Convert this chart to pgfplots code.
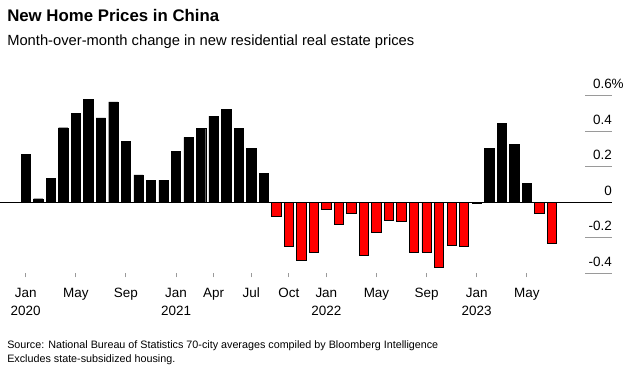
\documentclass[border=0pt]{standalone}
\usepackage{pgfplots}
\pgfplotsset{compat=1.18}
\usepackage{fontspec}
\setmainfont{Liberation Sans}
\definecolor{barred}{HTML}{FF0000}
\definecolor{gridgray}{HTML}{9A9A9A}
\begin{document}
\begin{tikzpicture}
\path[use as bounding box] (0pt,0pt) rectangle (470.25pt,276pt);
\node[anchor=base west,inner sep=0pt,font=\fontsize{12.6pt}{14pt}\selectfont\bfseries] at (5.25pt,259.7pt) {New Home Prices in China};
\node[anchor=base west,inner sep=0pt,font=\fontsize{11.05pt}{13pt}\selectfont] at (5.25pt,241.5pt) {Month-over-month change in new residential real estate prices};
\node[anchor=base west,inner sep=0pt,font=\fontsize{8.07pt}{10.5pt}\selectfont] at (5.25pt,15pt) {Source: National Bureau of Statistics 70-city averages compiled by Bloomberg Intelligence};
\node[anchor=base west,inner sep=0pt,font=\fontsize{8.07pt}{10.5pt}\selectfont] at (5.25pt,4.5pt) {Excludes state-subsidized housing.};
\begin{axis}[
  at={(0pt,71.03pt)}, anchor=south west,
  scale only axis, width=459pt, height=146.44pt,
  xmin=-2.05, xmax=46.8, ymin=-0.4, ymax=0.7,
  clip=false,
  axis line style={draw=none},
  xtick={0,4,8,12,15,18,21,24,28,32,36,40},
  xticklabels={Jan\\2020,May,Sep,Jan\\2021,Apr,Jul,Oct,Jan\\2022,May,Sep,Jan\\2023,May},
  xtick pos=bottom, tick align=outside,
  major tick length=3pt,
  xtick style={gridgray, line width=0.75pt},
  xticklabel style={align=center, font=\fontsize{10.1pt}{13.5pt}\selectfont, text=black, yshift=-4.3pt},
  ytick={-0.4,-0.2,0,0.2,0.4,0.6},
  yticklabels={-0.4,-0.2,0,0.2,0.4,0.6\rlap{\%}},
  ytick pos=right,
  ytick style={draw=none},
  yticklabel style={anchor=south east, inner sep=0pt, xshift=-3pt, yshift=5pt, font=\fontsize{10.1pt}{12pt}\selectfont, text=black},
]
\draw[gridgray, line width=0.9pt] (axis cs:44.645,-0.4) -- (axis cs:46.8,-0.4);
\draw[gridgray, line width=0.9pt] (axis cs:44.645,-0.2) -- (axis cs:46.8,-0.2);
\draw[gridgray, line width=0.9pt] (axis cs:44.645,0.2) -- (axis cs:46.8,0.2);
\draw[gridgray, line width=0.9pt] (axis cs:44.645,0.4) -- (axis cs:46.8,0.4);
\draw[gridgray, line width=0.9pt] (axis cs:44.645,0.6) -- (axis cs:46.8,0.6);
\addplot[ybar, bar width=6.975pt, bar shift=0pt, fill=black, draw=black, line width=0.3pt] coordinates {
(0,0.27) (1,0.02) (2,0.135) (3,0.42) (4,0.50) (5,0.58) (6,0.475) (7,0.565) (8,0.345) (9,0.155) (10,0.125) (11,0.125)
(12,0.285) (13,0.365) (14,0.415) (15,0.485) (16,0.525) (17,0.415) (18,0.305) (19,0.165)
(37,0.305) (38,0.445) (39,0.325) (40,0.105)
};
\addplot[ybar, bar width=6.975pt, bar shift=0pt, fill=barred, draw=black, line width=0.6pt] coordinates {
(20,-0.08) (21,-0.25) (22,-0.33) (23,-0.28) (24,-0.04) (25,-0.125) (26,-0.065) (27,-0.30) (28,-0.17) (29,-0.10) (30,-0.11)
(31,-0.285) (32,-0.28) (33,-0.365) (34,-0.245) (35,-0.25) (36,-0.005) (41,-0.06) (42,-0.23)
};
\draw[black, line width=0.8pt] (axis cs:-2.05,0) -- (axis cs:46.8,0);
\end{axis}
\end{tikzpicture}
\end{document}
